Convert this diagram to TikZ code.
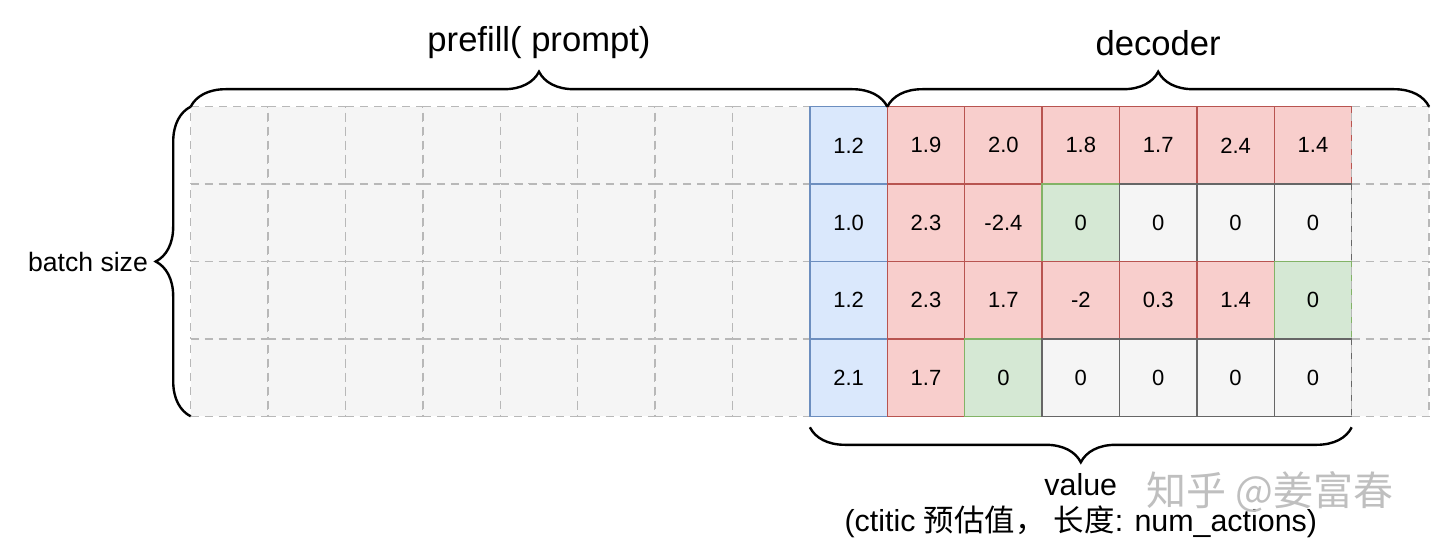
\documentclass[tikz,border=0pt]{standalone}
\usepackage{fontspec}
\setmainfont{Liberation Sans}
\newfontfamily\cjk{Noto Sans CJK SC}
\usetikzlibrary{matrix}
\usetikzlibrary{positioning}
\usetikzlibrary{decorations.pathreplacing}
\definecolor{padfill}{HTML}{F5F5F5}
\definecolor{padline}{HTML}{666666}
\definecolor{promptfill}{HTML}{DAE8FC}
\definecolor{promptline}{HTML}{6C8EBF}
\definecolor{actfill}{HTML}{F8CECC}
\definecolor{actline}{HTML}{B85450}
\definecolor{stopfill}{HTML}{D5E8D4}
\definecolor{stopline}{HTML}{82B366}
\def\mycell{38.7pt}
\tikzset{
semithick, % all lines semithick
cell/.style={anchor=center,minimum width=\mycell,minimum height=\mycell,inner sep=0mm,line width=0.7pt,font=\fontsize{11}{13}\selectfont},
pre/.style={cell,draw=black!28,dashed,dash pattern=on 4pt off 3pt,fill=padfill},
prompt/.style={cell,solid,draw=promptline,fill=promptfill},
act/.style={cell,solid,draw=actline,fill=actfill},
stop/.style={cell,solid,draw=stopline,fill=stopfill},
pad/.style={cell,solid,draw=padline,fill=padfill},
mtrx/.style={
  matrix of nodes,
  nodes in empty cells,
  inner sep=0pt,
  outer sep=0pt,
  nodes={pre},
  row sep={\mycell,between origins},
  column sep={\mycell,between origins}
},
brace/.style={decorate,decoration={brace,amplitude=17.5pt},line width=1.2pt},
big label/.style={font=\fontsize{17.3}{20}\selectfont},
small label/.style={font=\fontsize{13.3}{16}\selectfont},
value label/.style={font=\fontsize{15.2}{18}\selectfont},
watermark/.style={inner sep=0pt,text=black!25,font=\cjk\fontsize{20}{24}\selectfont}
}
\begin{document}
\begin{tikzpicture}
\useasboundingbox (0,0) rectangle (720pt,-278pt);
\matrix (m) [mtrx,anchor=north west] at (95pt,-53pt) {
 & & & & & & & & |[prompt]| 1.2 & |[act]| 1.9 & |[act]| 2.0 & |[act]| 1.8 & |[act]| 1.7 & |[act]| 2.4 & |[act]| 1.4 & \\
 & & & & & & & & |[prompt]| 1.0 & |[act]| 2.3 & |[act]| -2.4 & |[stop]| 0 & |[pad]| 0 & |[pad]| 0 & |[pad]| 0 & \\
 & & & & & & & & |[prompt]| 1.2 & |[act]| 2.3 & |[act]| 1.7 & |[act]| -2 & |[act]| 0.3 & |[act]| 1.4 & |[stop]| 0 & \\
 & & & & & & & & |[prompt]| 2.1 & |[act]| 1.7 & |[stop]| 0 & |[pad]| 0 & |[pad]| 0 & |[pad]| 0 & |[pad]| 0 & \\
};
% braces round the grid
\draw[brace] (m-1-1.north west) -- node[big label,yshift=32pt] (prefill) {prefill( prompt)} (m-1-9.north east);
\draw[brace] (m-1-10.north west) -- node[big label,yshift=32pt] (decoder) {decoder} (m-1-16.north east);
\draw[brace] (m-4-1.south west) -- node[small label,anchor=east,xshift=-17.5pt] (batch) {batch size} (m-1-1.north west);
\draw[brace,decoration={raise=5.5pt}] (m-4-15.south east) -- node[value label,yshift=-34pt] (value) {value}
  node[value label,yshift=-52.5pt] (note) {(ctitic {\cjk 预估值，} {\cjk 长度}: num\_actions)} (m-4-9.south west);
\node[watermark] (mark) at (635pt,-246pt) {知乎 @姜富春};
\end{tikzpicture}
\end{document}
